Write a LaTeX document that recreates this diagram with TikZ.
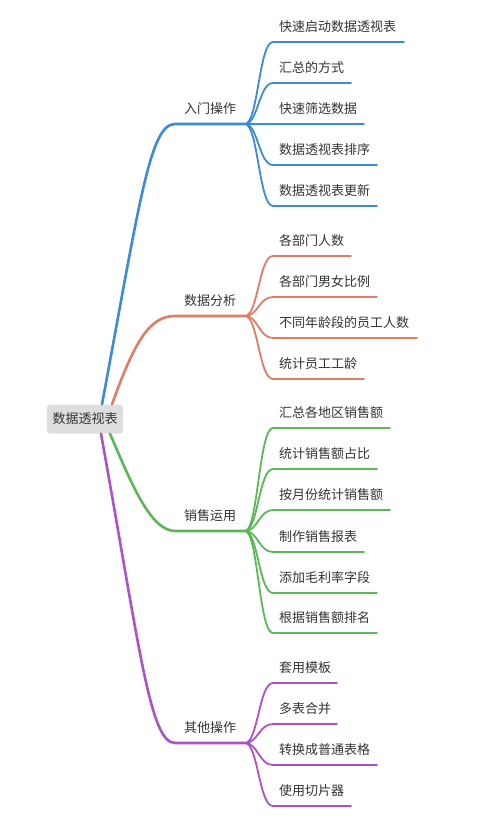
\documentclass[tikz,border=0pt]{standalone}
\usepackage{fontspec}
\setmainfont{Noto Sans CJK SC}
\definecolor{blau}{HTML}{3C8ADA}
\definecolor{rot}{HTML}{E27C65}
\definecolor{gruen}{HTML}{5CB856}
\definecolor{lila}{HTML}{AF50CB}
\definecolor{schrift}{HTML}{333333}
\tikzset{
	ast/.style={line width=2.6pt, line cap=round},
	zweig/.style={line width=1.8pt, line cap=round},
	txt/.style={inner sep=0pt, text=schrift, font=\fontsize{13}{15}\selectfont},
	wurzel/.style={txt, fill=black!13, rounded corners=3pt, minimum width=76pt, minimum height=29pt}
}
\newcommand{\blatt}[6]{% farbe, von, name, y, ende, text
	\coordinate (#3a) at (273, #4);
	\coordinate (#3b) at (#5, #4);
	\node [txt, anchor=west] (#3) at (279, #4-15) {#6};
	\draw [zweig, #1] (#2) .. controls ++(13,0) and ++(-14,0) .. (#3a) -- (#3b);
}
\begin{document}
\begin{tikzpicture}[x=1pt, y=-1pt]
		\useasboundingbox (0,0) rectangle (500,835);
		% Wurzel
		\node [wurzel] (root) at (85, 419) {数据透视表};
		% Hauptaeste
		\coordinate (ea) at (175, 124); \coordinate (eb) at (245, 124);
		\coordinate (aa) at (175, 316); \coordinate (ab) at (245, 316);
		\coordinate (va) at (175, 531); \coordinate (vb) at (245, 531);
		\coordinate (sa) at (175, 743); \coordinate (sb) at (245, 743);
		\node [txt] (einstieg) at (210, 109) {入门操作};
		\node [txt] (analyse) at (210, 301) {数据分析};
		\node [txt] (verkauf) at (210, 516) {销售运用};
		\node [txt] (sonstig) at (210, 728) {其他操作};
		\draw [ast, blau] ([xshift=17]root.north) .. controls (140, 200) and (150, 124) .. (ea) -- (eb);
		\draw [ast, rot] ([xshift=27]root.north) .. controls (135, 340) and (150, 316) .. (aa) -- (ab);
		\draw [ast, gruen] ([xshift=25]root.south) .. controls (130, 480) and (150, 531) .. (va) -- (vb);
		\draw [ast, lila] ([xshift=16]root.south) .. controls (140, 650) and (150, 743) .. (sa) -- (sb);
		% Blaetter: Einstieg
		\blatt{blau}{eb}{e1}{42}{404}{快速启动数据透视表}
		\blatt{blau}{eb}{e2}{83}{351}{汇总的方式}
		\blatt{blau}{eb}{e3}{124}{364}{快速筛选数据}
		\blatt{blau}{eb}{e4}{165}{377}{数据透视表排序}
		\blatt{blau}{eb}{e5}{206}{377}{数据透视表更新}
		% Blaetter: Analyse
		\blatt{rot}{ab}{a1}{256}{351}{各部门人数}
		\blatt{rot}{ab}{a2}{297}{377}{各部门男女比例}
		\blatt{rot}{ab}{a3}{338}{417}{不同年龄段的员工人数}
		\blatt{rot}{ab}{a4}{379}{364}{统计员工工龄}
		% Blaetter: Verkauf
		\blatt{gruen}{vb}{v1}{428}{390}{汇总各地区销售额}
		\blatt{gruen}{vb}{v2}{469}{377}{统计销售额占比}
		\blatt{gruen}{vb}{v3}{510}{390}{按月份统计销售额}
		\blatt{gruen}{vb}{v4}{552}{364}{制作销售报表}
		\blatt{gruen}{vb}{v5}{593}{377}{添加毛利率字段}
		\blatt{gruen}{vb}{v6}{633}{377}{根据销售额排名}
		% Blaetter: Sonstiges
		\blatt{lila}{sb}{s1}{683}{337}{套用模板}
		\blatt{lila}{sb}{s2}{724}{337}{多表合并}
		\blatt{lila}{sb}{s3}{765}{377}{转换成普通表格}
		\blatt{lila}{sb}{s4}{806}{351}{使用切片器}
	\end{tikzpicture}
\end{document}
